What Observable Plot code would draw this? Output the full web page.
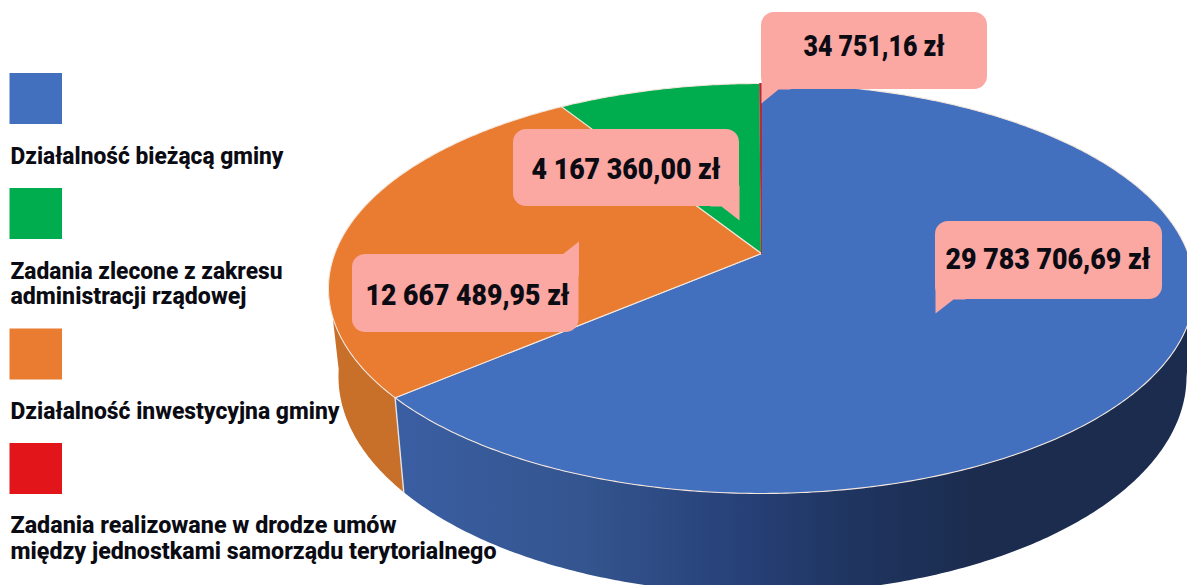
<!DOCTYPE html>
<html>
<head>
<meta charset="utf-8">
<script src="https://cdn.jsdelivr.net/npm/d3@7"></script>
<script src="https://cdn.jsdelivr.net/npm/@observablehq/plot@0.6"></script>
<style>html,body{margin:0;padding:0;background:#fff;overflow:hidden}svg{display:block}</style>
</head>
<body>
<div id="chart"></div>
<script>
// ---- data ----
const categories = [
  "Działalność bieżącą gminy",
  "Działalność inwestycyjna gminy",
  "Zadania zlecone z zakresu administracji rządowej",
  "Zadania realizowane w drodze umów między jednostkami samorządu terytorialnego"
];
const amounts = [29783706.69, 12667489.95, 4167360.00, 34751.16];
const amountLabels = ["29 783 706,69 zł", "12 667 489,95 zł", "4 167 360,00 zł", "34 751,16 zł"];
const faceColors = ["#4270BF", "#E97C30", "#00AD4E", "#E2151B"];
const wallColors = ["url(#wallBlue)", "#C86F2A", "#00AD4E", "#E2151B"];

// ---- layout ----
const legendLines = [
  {t: "Działalność bieżącą gminy", x: 10, y: 163, w: 273},
  {t: "Zadania zlecone z zakresu", x: 10, y: 278, w: 272},
  {t: "administracji rządowej", x: 10, y: 303, w: 236},
  {t: "Działalność inwestycyjna gminy", x: 10, y: 418, w: 329},
  {t: "Zadania realizowane w drodze umów", x: 10, y: 532, w: 386},
  {t: "między jednostkami samorządu terytorialnego", x: 10, y: 558, w: 486}
];
const legendSwatches = [
  {x1: 9.5, x2: 62, y1: 73, y2: 124, c: faceColors[0]},
  {x1: 9.5, x2: 62, y1: 188, y2: 239, c: faceColors[2]},
  {x1: 9.5, x2: 62, y1: 328.5, y2: 379.5, c: faceColors[1]},
  {x1: 9.5, x2: 62, y1: 443, y2: 494, c: faceColors[3]}
];
const callouts = [
  {i: 0, x1: 935, x2: 1162, y1: 221, y2: 299, tx: 945, ty: 268, tw: 205,
   tail: [[935,280],[935,313],[953,299],[965,299],[965,280]]},
  {i: 1, x1: 352, x2: 578.5, y1: 254, y2: 332, tx: 365, ty: 304, tw: 204,
   tail: [[578.5,275],[578.5,241],[562,254],[550,254],[550,275]]},
  {i: 2, x1: 513, x2: 739, y1: 129, y2: 206, tx: 531, ty: 178, tw: 189,
   tail: [[739,185],[739,220],[721,206],[710,206],[710,185]]},
  {i: 3, x1: 761, x2: 987, y1: 12, y2: 89, tx: 803, ty: 55, tw: 141,
   tail: [[761,70],[761,103],[778,89],[790,89],[790,70]]}
];

// perspective disc: same value-derived angles on the top face and on the lower rim
const topDisc = {cx: 761, cy: 253, c: 426.7, a: 199};
const lowDisc = {cx: 762, cy: 339, c: 417.8, a: 210.7};
const k = -0.1707;
const project = (d, th) => {
  const u = Math.sin(th), v = -Math.cos(th), w = 1 + k * v;
  return [d.cx + d.c * u / w, d.cy + d.a * v / w];
};
const arcPts = (d, a0, a1) => {
  const n = Math.max(2, Math.ceil(Math.abs(a1 - a0) / 0.01));
  return d3.range(n + 1).map(i => project(d, a0 + (a1 - a0) * i / n));
};

const arcs = d3.pie().sort(null).value(d => d)(amounts);
const rad = Math.PI / 180;
const visFrom = 100 * rad, visTo = 262 * rad;

const faces = arcs.map((a, i) => ({
  i, pts: [[topDisc.cx, topDisc.cy], ...arcPts(topDisc, a.startAngle, a.endAngle), [topDisc.cx, topDisc.cy]]
}));
const walls = arcs.map((a, i) => {
  const s = Math.max(a.startAngle, visFrom), e = Math.min(a.endAngle, visTo);
  if (e <= s) return null;
  const upper = arcPts(topDisc, s, e), lower = arcPts(lowDisc, e, s);
  return {i, pts: [...upper, ...lower, upper[0]]};
}).filter(Boolean);

const gradientDefs = () => {
  const svgNS = "http://www.w3.org/2000/svg";
  const defs = document.createElementNS(svgNS, "defs");
  const g = d3.select(defs).append("linearGradient")
    .attr("id", "wallBlue").attr("gradientUnits", "userSpaceOnUse")
    .attr("x1", 400).attr("x2", 1000).attr("y1", 0).attr("y2", 0);
  [[0, "#3A5EA2"], [0.3, "#34558F"], [0.55, "#28427A"], [0.75, "#1F3560"], [0.95, "#1B2C4F"], [1, "#1B2C4F"]]
    .forEach(([o, c]) => g.append("stop").attr("offset", o).attr("stop-color", c));
  return defs;
};

const X = p => p[0], Y = p => p[1];
const chart = Plot.plot({
  width: 1187, height: 585,
  margin: 0,
  x: {axis: null, domain: [0, 1187], range: [0, 1187]},
  y: {axis: null, domain: [0, 585], range: [0, 585]},
  style: {background: "#fff", fontFamily: "Roboto, sans-serif"},
  marks: [
    gradientDefs,
    ...walls.map(w => Plot.line(w.pts, {x: X, y: Y, fill: wallColors[w.i], stroke: "#E8E4DF", strokeWidth: 0.8, strokeOpacity: 0})),
    // seam between the two visible wall pieces
    ...arcs.filter(a => a.endAngle > visFrom && a.endAngle < visTo).map(a =>
      Plot.line([project(topDisc, a.endAngle), project(lowDisc, a.endAngle)], {x: X, y: Y, stroke: "#E3E3E6", strokeWidth: 1.4})),
    ...faces.map(f => Plot.line(f.pts, {
      x: X, y: Y, fill: faceColors[f.i],
      stroke: f.i === 3 ? "#A8303F" : "#F3E6DC", strokeWidth: f.i === 3 ? 1.2 : 1.1, strokeLinejoin: "round"
    })),
    Plot.rect(legendSwatches, {x1: "x1", x2: "x2", y1: "y1", y2: "y2", fill: d => d.c}),
    Plot.text(legendLines, {x: "x", y: "y", text: "t", textAnchor: "start", lineAnchor: "bottom",
      fontSize: 23, fontWeight: 800, fill: "#0B0B14"}),
    ...callouts.map(c => Plot.line(c.tail, {x: X, y: Y, fill: "#FBA7A2"})),
    Plot.rect(callouts, {x1: "x1", x2: "x2", y1: "y1", y2: "y2", fill: "#FBA7A2", rx: 13}),
    Plot.text(callouts, {x: "tx", y: "ty", text: d => amountLabels[d.i], textAnchor: "start", lineAnchor: "bottom",
      fontSize: 29, fontWeight: 900, fill: "#0B0B14"})
  ]
});

// fit each label to the measured width of the narrow display lettering
const widths = new Map([
  ...legendLines.map(d => [d.t, d.w]),
  ...callouts.map(d => [amountLabels[d.i], d.tw])
]);
d3.select(chart).selectAll("text").each(function () {
  const w = widths.get(this.textContent);
  if (w) d3.select(this).attr("textLength", w).attr("lengthAdjust", "spacingAndGlyphs");
});
document.getElementById("chart").append(chart);
</script>
</body>
</html>
